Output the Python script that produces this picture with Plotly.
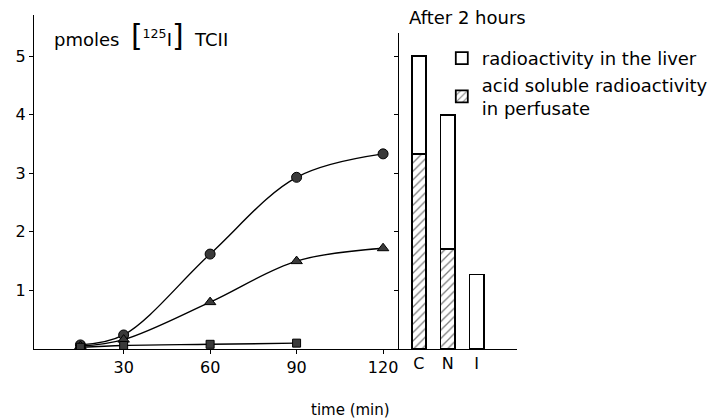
import plotly.graph_objects as go

# Time course of [125I]TCII uptake (pmoles)
time_min = [15, 30, 60, 90, 120]
control = [0.07, 0.24, 1.62, 2.93, 3.33]
treated_n = [0.05, 0.16, 0.80, 1.50, 1.72]
treated_i = [0.03, 0.06, 0.08, 0.10]
time_i = [15, 30, 60, 90]
x_ticks = [30, 60, 90, 120]
y_ticks = [1, 2, 3, 4, 5]

# After 2 hours: stacked bars
groups = ["C", "N", "I"]
perfusate_acid = [3.33, 1.70, 0.0]
liver = [1.67, 2.30, 1.27]

FONT = "DejaVu Sans"
W, H = 713, 420
L, R, T, B = 34, 0, 15, 71
pw = W - L - R
ph = H - T - B
split = (400 - L) / pw
right_end = (518 - L) / pw
Y_MAX = 5.7
Y2_MAX = 5.4

fig = go.Figure()

line_style = dict(color="black", width=1.4, shape="spline", smoothing=1.0)
mk = dict(color="#3a3a3a", line=dict(color="black", width=1))

fig.add_trace(go.Scatter(x=time_min, y=control, mode="lines+markers",
                         line=line_style, marker=dict(symbol="circle", size=10, **mk),
                         showlegend=False, xaxis="x", yaxis="y"))
fig.add_trace(go.Scatter(x=time_min, y=treated_n, mode="lines+markers",
                         line=line_style, marker=dict(symbol="triangle-up", size=10, **mk),
                         showlegend=False, xaxis="x", yaxis="y"))
fig.add_trace(go.Scatter(x=time_i, y=treated_i, mode="lines+markers",
                         line=line_style, marker=dict(symbol="square", size=8, **mk),
                         showlegend=False, xaxis="x", yaxis="y"))

fig.add_trace(go.Bar(x=groups, y=perfusate_acid, name="acid soluble radioactivity<br>in perfusate",
                     width=0.5, xaxis="x2", yaxis="y2",
                     marker=dict(color="white", line=dict(color="black", width=1.8),
                                 pattern=dict(shape="/", fgcolor="black", bgcolor="white",
                                              size=6, solidity=0.22))))
fig.add_trace(go.Bar(x=groups, y=liver, name="radioactivity in the liver",
                     width=0.5, xaxis="x2", yaxis="y2",
                     marker=dict(color="white", line=dict(color="black", width=1.8))))

axis_common = dict(showline=True, linecolor="black", linewidth=1.4, showgrid=False,
                   zeroline=False, ticks="outside", ticklen=4, tickcolor="black",
                   tickfont=dict(family=FONT, size=16, color="black"))

fig.update_layout(
    width=W, height=H,
    margin=dict(l=L, r=R, t=T, b=B),
    paper_bgcolor="white", plot_bgcolor="white",
    barmode="stack",
    font=dict(family=FONT, size=16, color="black"),
    xaxis=dict(domain=[0, split], range=[-1.1, 125.5], tickvals=x_ticks,
               anchor="y", **axis_common),
    yaxis=dict(domain=[0, 1], range=[0, Y_MAX], tickvals=y_ticks,
               anchor="x", **axis_common),
    xaxis2=dict(domain=[split, right_end], range=[-0.69, 3.38], type="category",
                anchor="y2", showline=True, linecolor="black", linewidth=1.4,
                showgrid=False, zeroline=False, ticks="",
                tickfont=dict(family=FONT, size=16, color="black")),
    yaxis2=dict(domain=[0, Y2_MAX / Y_MAX], range=[0, Y2_MAX], tickvals=y_ticks,
                showticklabels=False, anchor="x2",
                **{k: v for k, v in axis_common.items() if k != "tickfont"}),
    legend=dict(x=(443 - L) / pw, y=(349 - 40) / ph, xanchor="left", yanchor="top",
                traceorder="reversed", bgcolor="rgba(0,0,0,0)",
                font=dict(family=FONT, size=18, color="black"),
                itemwidth=30, tracegroupgap=0),
    annotations=[
        dict(text="pmoles  <span style='font-size:30px'>[</span><sup>125</sup>I"
                  "<span style='font-size:30px'>]</span>  TCII",
             xref="paper", yref="paper",
             x=(52 - L) / pw, y=(349 - 35) / ph, xanchor="left", yanchor="middle",
             showarrow=False, font=dict(family=FONT, size=18)),
        dict(text="After 2 hours", xref="paper", yref="paper",
             x=(408 - L) / pw, y=(349 - 17) / ph, xanchor="left", yanchor="middle",
             showarrow=False, font=dict(family=FONT, size=18)),
        dict(text="time (min)", xref="paper", yref="paper",
             x=(351 - L) / pw, y=(349 - 410) / ph, xanchor="center", yanchor="middle",
             showarrow=False, font=dict(family=FONT, size=15)),
    ],
)

fig.write_html("out.html")
